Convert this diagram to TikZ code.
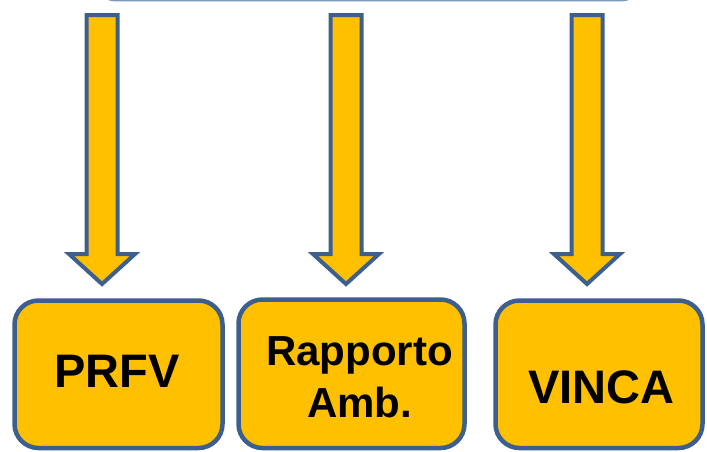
\documentclass[tikz,border=0pt]{standalone}
\usepackage{fontspec}
\setmainfont{Liberation Sans}
\definecolor{gold}{HTML}{FFC000}
\definecolor{boxblue}{HTML}{3C5F8E}
\definecolor{topblue}{HTML}{7E97BD}
\begin{document}
\begin{tikzpicture}[x=1pt,y=-1pt,
  box/.style={draw=boxblue,line width=4.5pt,fill=gold,rounded corners=24pt,anchor=north west,inner sep=0pt,outer sep=0pt},
  blockarrow/.style={draw=boxblue,line width=4pt,fill=gold,line join=miter},
  lbl/.style={font=\bfseries\fontsize{47}{52}\selectfont,align=center,inner sep=0pt,anchor=base},
  lblsmall/.style={font=\bfseries\fontsize{42}{52}\selectfont,align=center,inner sep=0pt,anchor=base}]
\useasboundingbox (0,0) rectangle (707,451);
% top box, mostly outside the picture
\draw[draw=topblue,line width=1.5pt,rounded corners=18pt] (97,-60) rectangle (640,0.6);
% block arrows
\foreach \c in {102,346,587}{
  \draw[blockarrow] ({\c-15.5},15) -- ({\c+15.5},15) -- ({\c+15.5},254) -- ({\c+33},254)
    -- (\c,284) -- ({\c-33},254) -- ({\c-15.5},254) -- cycle;
}
% boxes
\node[box,minimum width=208pt,minimum height=147.5pt] (prfv) at (14.5,300.5) {};
\node[box,minimum width=226pt,minimum height=148.5pt] (rapp) at (238.5,299.5) {};
\node[box,minimum width=207pt,minimum height=147.5pt] (vinca) at (495.5,300.5) {};
% labels
\node[lbl] (prfvtext) at (117,387) {PRFV};
\node[lblsmall] (rapptext) at (359.5,417) {Rapporto\\Amb.};
\node[lbl] (vincatext) at (601.5,403) {VINCA};
\end{tikzpicture}
\end{document}
